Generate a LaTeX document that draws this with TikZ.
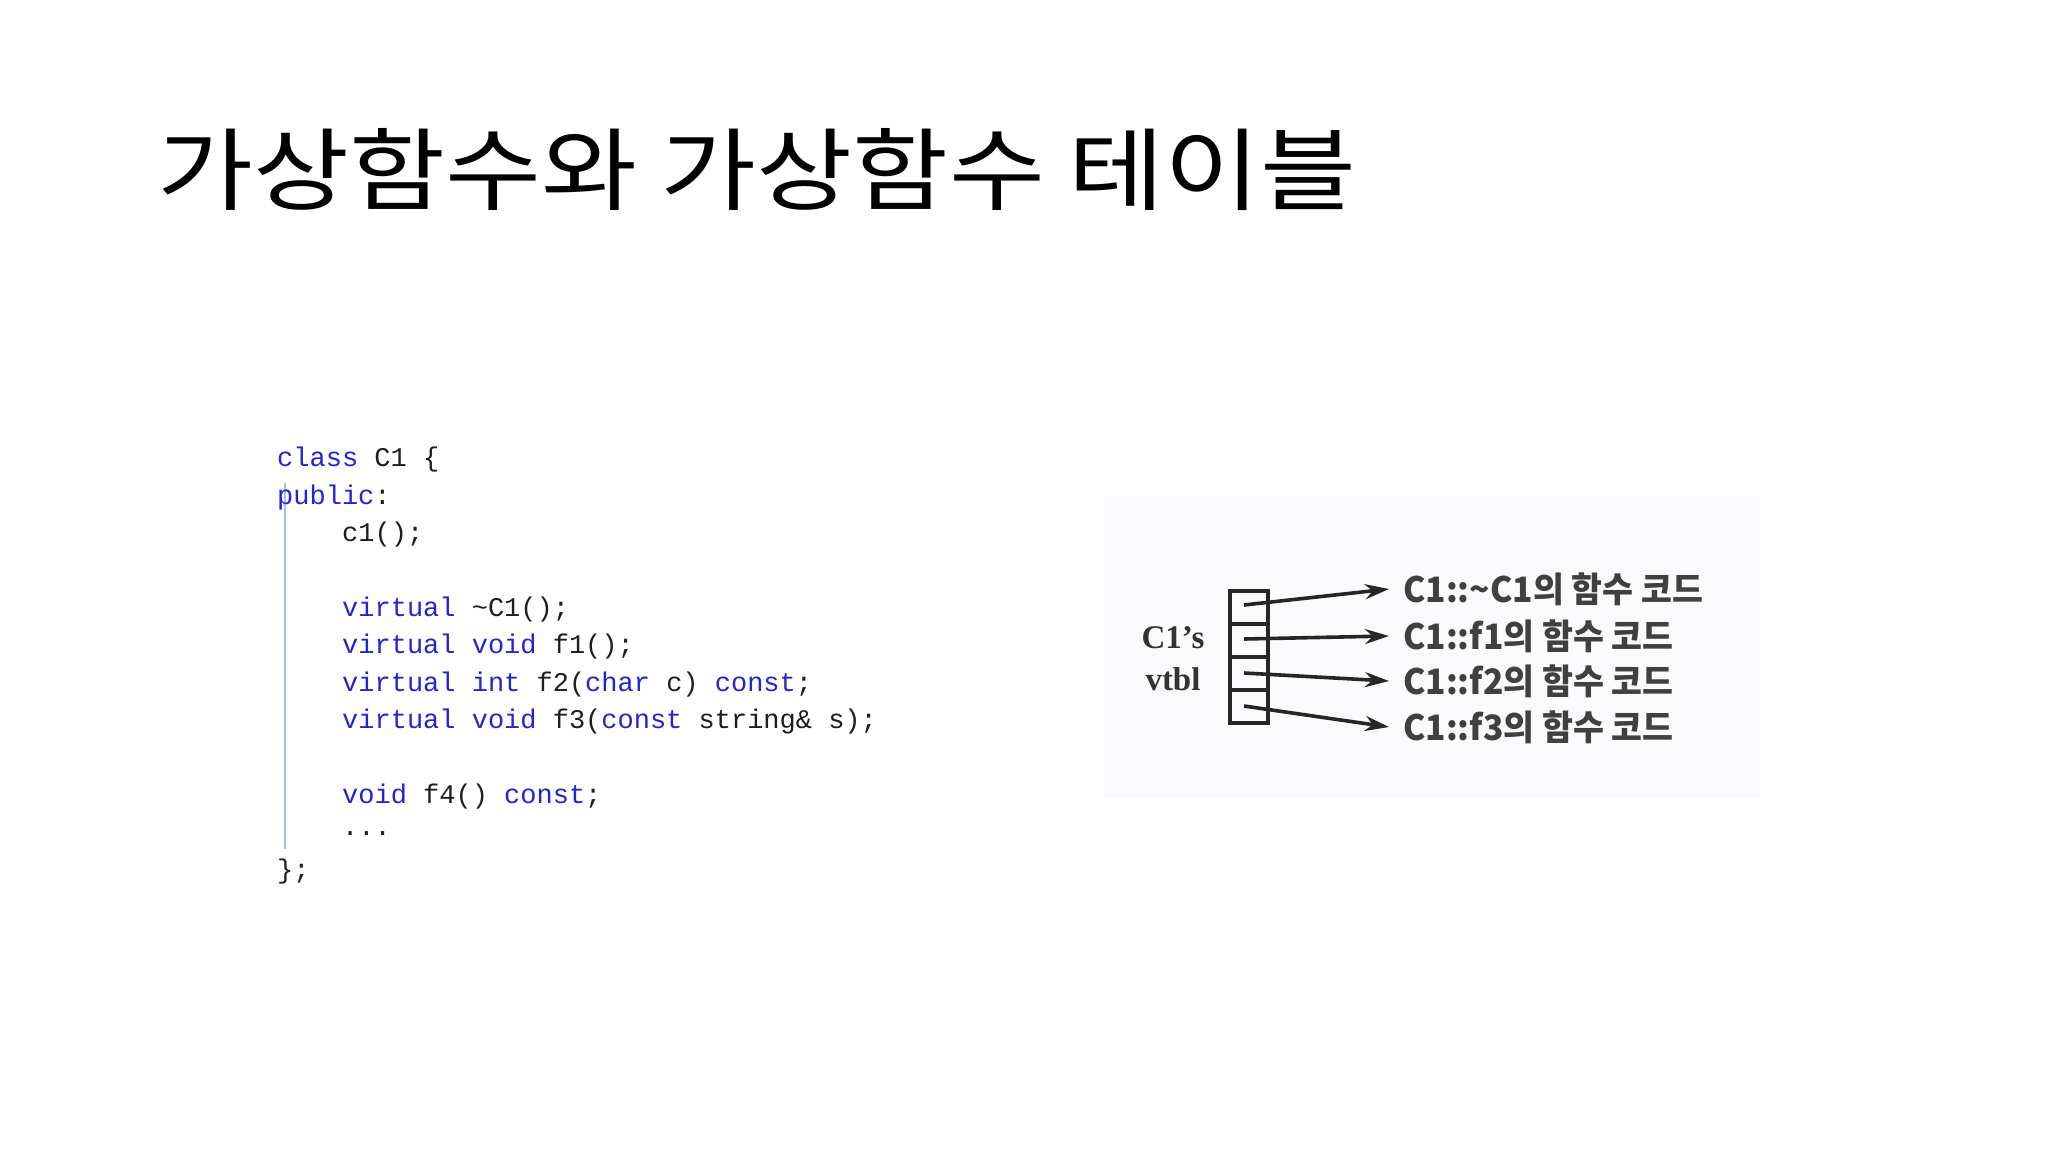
\documentclass[tikz,border=0pt]{standalone}
\usepackage{fontspec}
\setmainfont{Liberation Serif}
\newfontfamily\krfont{Noto Sans CJK KR}
\newfontfamily\codefont{Liberation Mono}
\usetikzlibrary{arrows.meta}
\definecolor{kw}{RGB}{35,35,215}
\definecolor{tx}{RGB}{30,30,30}
\definecolor{guide}{RGB}{150,200,225}
\definecolor{panel}{RGB}{250,250,252}
\newcommand{\K}[1]{\textcolor{kw}{#1}}
\tikzset{
  codeline/.style={anchor=west,inner sep=0pt,text=tx,font=\codefont\fontsize{27}{27}\selectfont},
  fnlabel/.style={anchor=west,inner sep=0pt,xscale=0.96,font=\krfont\bfseries\fontsize{35}{35}\selectfont,text=black!75},
  vlabel/.style={inner sep=0pt,font=\bfseries\fontsize{33}{33}\selectfont,text=black!80},
  ptr/.style={line width=3.6pt,black!85,-{Stealth[length=24pt,width=15pt]}},
  cell/.style={draw=black!85,line width=3.2pt,minimum width=38pt,minimum height=33pt,inner sep=0pt,outer sep=0pt}
}
\begin{document}
\begin{tikzpicture}[x=1pt,y=-1pt]
\useasboundingbox (0,0) rectangle (2048,1152);
\fill[white] (0,0) rectangle (2048,1152);
% title
\node[anchor=base west,inner sep=0pt,xscale=1.16,font=\krfont\fontsize{90}{90}\selectfont] (title) at (157,203) {가상함수와 가상함수 테이블};
% code
\draw[guide,line width=1.2pt] (285,483) -- (285,849);
\node[codeline] (l0) at (277,460) {\K{class} C1 \{};
\node[codeline] (l1) at (277,497.4) {\K{public}:};
\node[codeline] (l2) at (342,534.8) {c1();};
\node[codeline] (l3) at (342,609.6) {\K{virtual} \textasciitilde C1();};
\node[codeline] (l4) at (342,647) {\K{virtual} \K{void} f1();};
\node[codeline] (l5) at (342,684.4) {\K{virtual} \K{int} f2(\K{char} c) \K{const};};
\node[codeline] (l6) at (342,721.8) {\K{virtual} \K{void} f3(\K{const} string\& s);};
\node[codeline] (l7) at (342,796.6) {\K{void} f4() \K{const};};
\node[codeline] (l8) at (342,834) {...};
\node[codeline] (l9) at (277,871.4) {\};};
% panel
\fill[panel] (1104,496) rectangle (1760,799);
\node[cell] (c1) at (1249,607.5) {};
\node[cell] (c2) at (1249,640.5) {};
\node[cell] (c3) at (1249,673.5) {};
\node[cell] (c4) at (1249,706.5) {};
\node[vlabel] (v1) at (1173,638) {C1's};
\node[vlabel] (v2) at (1173,679) {vtbl};
\node[fnlabel] (f1) at (1403,589) {C1::\textasciitilde C1의 함수 코드};
\node[fnlabel] (f2) at (1403,636) {C1::f1의 함수 코드};
\node[fnlabel] (f3) at (1403,681) {C1::f2의 함수 코드};
\node[fnlabel] (f4) at (1403,727) {C1::f3의 함수 코드};
\coordinate (s1) at (1244,605);
\coordinate (s2) at (1244,639);
\coordinate (s3) at (1244,673);
\coordinate (s4) at (1244,706);
\draw[ptr] (s1) -- ([xshift=-14pt]f1.west);
\draw[ptr] (s2) -- ([xshift=-14pt]f2.west);
\draw[ptr] (s3) -- ([xshift=-14pt]f3.west);
\draw[ptr] (s4) -- ([xshift=-14pt]f4.west);
\end{tikzpicture}
\end{document}
